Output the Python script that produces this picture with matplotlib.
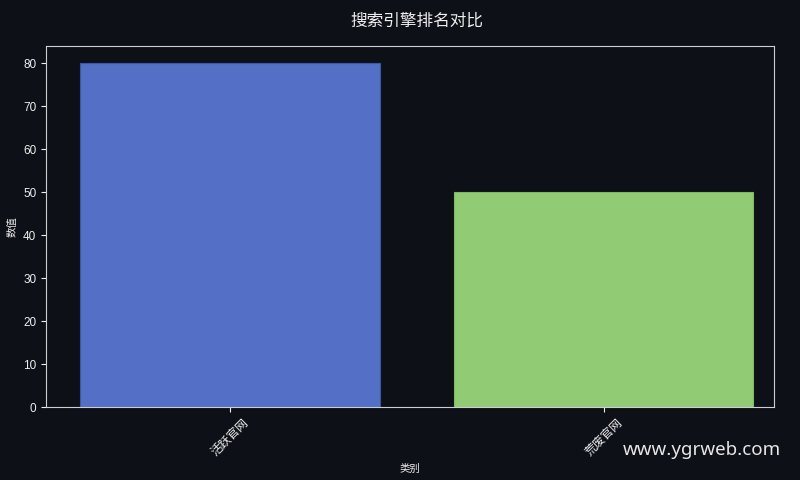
import matplotlib
matplotlib.use("Agg")
import matplotlib.pyplot as plt

plt.rcParams['font.family'] = ['Liberation Sans', 'Noto Sans CJK SC', 'DejaVu Sans']

# datos
categorias = ['活跃官网', '荒废官网']
valores = [80, 50]
colores = ['#5470c6', '#91cc75']

fondo = '#0d1017'

fig, ax = plt.subplots(figsize=(8, 4.8), dpi=100)
fig.patch.set_facecolor(fondo)
ax.set_facecolor(fondo)

ax.bar(categorias, valores, width=0.8, color=colores, edgecolor=['#3f55a0', '#7fb864'], linewidth=0.8)
ax.set_xlim(-0.492, 1.455)

ax.set_title('搜索引擎排名对比', color='#eeeeee', fontsize=12, pad=15, x=0.51)
ax.set_xlabel('类别', color='#eeeeee', fontsize=7.5)
ax.set_ylabel('数值', color='#eeeeee', fontsize=7.5)
ax.tick_params(colors='#eeeeee', labelsize=8.5)
plt.setp(ax.get_xticklabels(), rotation=45, fontsize=8.5)
for s in ax.spines.values():
    s.set_color('#cfcfcf')

fig.subplots_adjust(left=0.0575, right=0.9675, top=0.904, bottom=0.152)
fig.text(0.976, 0.063, 'www.ygrweb.com', ha='right', va='center',
         color='#e6e6e6', fontsize=13.5, family=['Noto Sans', 'DejaVu Sans'])

plt.savefig('out.png', facecolor=fondo)
